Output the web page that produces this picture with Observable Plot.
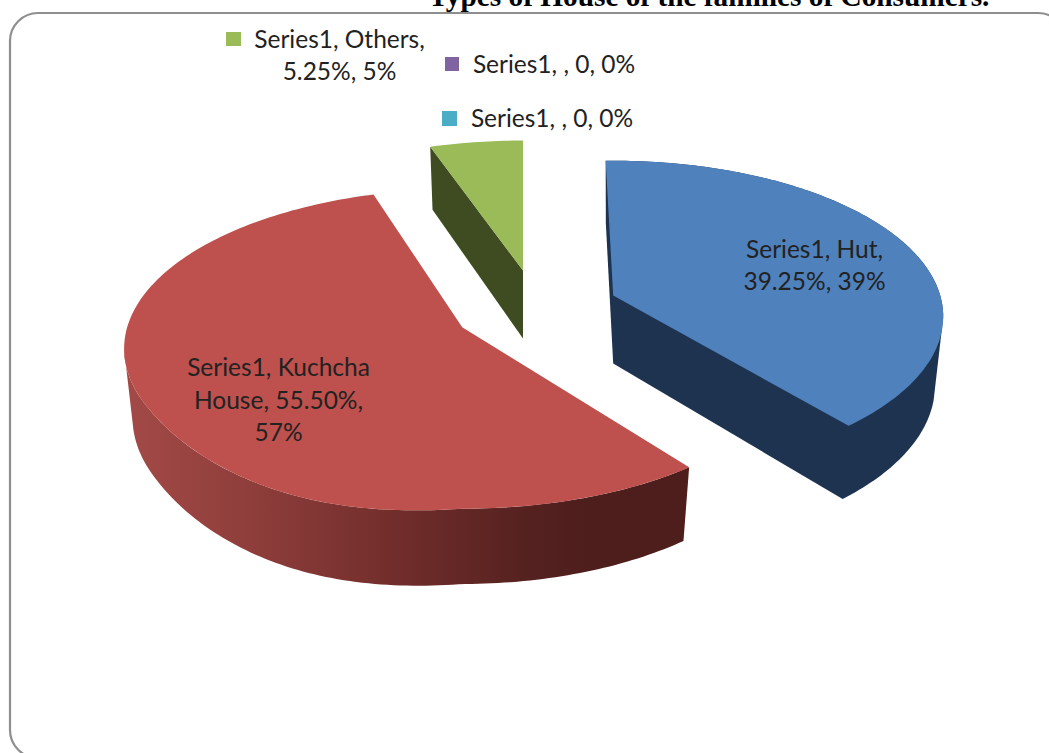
<!DOCTYPE html>
<html>
<head>
<meta charset="utf-8">
<script src="https://cdn.jsdelivr.net/npm/d3@7"></script>
<script src="https://cdn.jsdelivr.net/npm/@observablehq/plot@0.6"></script>
<style>html,body{margin:0;padding:0;background:#fff;overflow:hidden}svg{display:block}</style>
</head>
<body>
<div id="chart"></div>
<script>
const titleText = "Types of House of the families of Consumers.";
const categories = ["Hut", "Kuchcha House", "Others"];
const shares = [39.25, 55.5, 5.25];
const sliceLabels = [
  "Series1, Hut,\n39.25%, 39%",
  "Series1, Kuchcha\nHouse, 55.50%,\n57%",
  "Series1, Others,\n5.25%, 5%"
];
const zeroLabels = ["Series1, , 0, 0%", "Series1, , 0, 0%"];

// drawing layout (3-D view of the pie, in pixels)
const W = 1049, H = 753;
const k = 0.135;
const views = [
  {apex: [612.7, 295], a: 327, b: 153, turn: -1.5, bulge: 0},
  {apex: [461.7, 326.7], a: 335, b: 157, turn: 1.5, bulge: 0.05},
  {apex: [522.5, 270], a: 323, b: 147.5, turn: 0, bulge: 0}
];
const topColors = ["#4f81bd", "#be504d", "#9bbb59"];
const wallColors = ["#1e3350", "url(#redWall)", "#3f4b20"];
const keyColors = {others: "#9bbb59", zeroA: "#8064a2", zeroB: "#4bacc6"};

const total = d3.sum(shares);
let acc = 0;
const spans = shares.map((s, i) => { const a0 = acc; acc += s; return [a0 / total * 360 + views[i].turn, acc / total * 360 + views[i].turn]; });

function topPoint(i, deg) {
  const t = deg * Math.PI / 180, u = Math.sin(t), v = -Math.cos(t), d = 1 - k * v, w = views[i];
  const lift = deg > 180 && deg < 240 ? 1 + w.bulge * Math.sin((deg - 180) / 60 * Math.PI) : 1;
  return {x: w.apex[0] + w.a * u / d, y: w.apex[1] + w.b * v / d * lift};
}
function lower(i, p) {
  const c = views[i].apex, dx = p.x - c[0], dy = p.y - c[1];
  return {x: c[0] + dx * 0.975, y: c[1] + 68 + dy * 1.04};
}
function arc(i, d0, d1) {
  const n = Math.max(2, Math.ceil(Math.abs(d1 - d0)));
  return d3.range(n + 1).map(j => topPoint(i, d0 + (d1 - d0) * j / n));
}
const A = i => ({x: views[i].apex[0], y: views[i].apex[1]});
const topPoly = i => [A(i), ...arc(i, spans[i][0], spans[i][1])];
const face = (i, deg) => { const p = topPoint(i, deg); return [A(i), p, lower(i, p), lower(i, A(i))]; };
// rim of Kuchcha House, closed along the left silhouette of the solid
const kuchchaWall = () => {
  const s = spans[1][0];
  return [...arc(1, s, 262), ...arc(1, 258, s).map(p => lower(1, p))];
};
// silhouette of the Hut wall: both cut faces and the outer rim as one shape
const hutWall = () => {
  const [s, e] = spans[0], start = topPoint(0, s), end = topPoint(0, e);
  return [start, lower(0, start), lower(0, A(0)), lower(0, end),
    ...arc(0, e, 103).map(p => lower(0, p)), ...arc(0, 98, s)];
};

const poly = (pts, fill) => Plot.line(pts, {x: "x", y: "y", fill, stroke: "none", curve: "linear"});

const defs = () => {
  const s = d3.create("svg:defs");
  const g = s.append("linearGradient").attr("id", "redWall").attr("x1", 0).attr("x2", 1).attr("y1", 0).attr("y2", 0);
  [[0, "#a34a47"], [0.22, "#8f3e3b"], [0.5, "#6f2c2a"], [0.72, "#54211f"], [0.82, "#4e1e1c"], [1, "#4e1e1c"]]
    .forEach(([o, c]) => g.append("stop").attr("offset", o).attr("stop-color", c));
  return s.node();
};

const keys = [
  {x1: 226, x2: 241, y1: 32, y2: 46, c: keyColors.others},
  {x1: 445, x2: 459, y1: 57, y2: 71, c: keyColors.zeroA},
  {x1: 442, x2: 457, y1: 111, y2: 126, c: keyColors.zeroB}
];
const labels = [
  {x: 814, y: 263, t: sliceLabels[0]},
  {x: 278, y: 397.5, t: sliceLabels[1]},
  {x: 339, y: 53, t: sliceLabels[2]},
  {x: 553.5, y: 62, t: zeroLabels[0]},
  {x: 551.5, y: 116, t: zeroLabels[1]}
];

const chart = Plot.plot({
  width: W, height: H, margin: 0,
  x: {domain: [0, W], range: [0, W], axis: null},
  y: {domain: [0, H], range: [0, H], axis: null},
  marks: [
    defs,
    Plot.rect([{x1: 10, x2: 1066, y1: 13, y2: 758}], {x1: "x1", x2: "x2", y1: "y1", y2: "y2", fill: "#fff", stroke: "#8e8e8e", strokeWidth: 2.2, rx: 28}),
    Plot.text([titleText], {x: 428, y: 5, text: d => d, textAnchor: "start", lineAnchor: "bottom", fontFamily: "Liberation Serif", fontWeight: "bold", fontSize: 29.3, fill: "#000"}),
    // Kuchcha House
    poly(kuchchaWall(), wallColors[1]),
    poly(topPoly(1), topColors[1]),
    // Others
    poly(face(2, spans[2][0]), wallColors[2]),
    poly(topPoly(2), topColors[2]),
    // Hut
    poly(hutWall(), wallColors[0]),
    poly(topPoly(0), topColors[0]),
    Plot.rect(keys, {x1: "x1", x2: "x2", y1: "y1", y2: "y2", fill: "c"}),
    Plot.text(labels, {x: "x", y: "y", text: "t", textAnchor: "middle", lineAnchor: "middle", lineHeight: 1.34, fontFamily: "Lato", fontSize: 24.5, fill: "#222"})
  ],
  color: {type: "identity"}
});
document.getElementById("chart").append(chart);
</script>
</body>
</html>
